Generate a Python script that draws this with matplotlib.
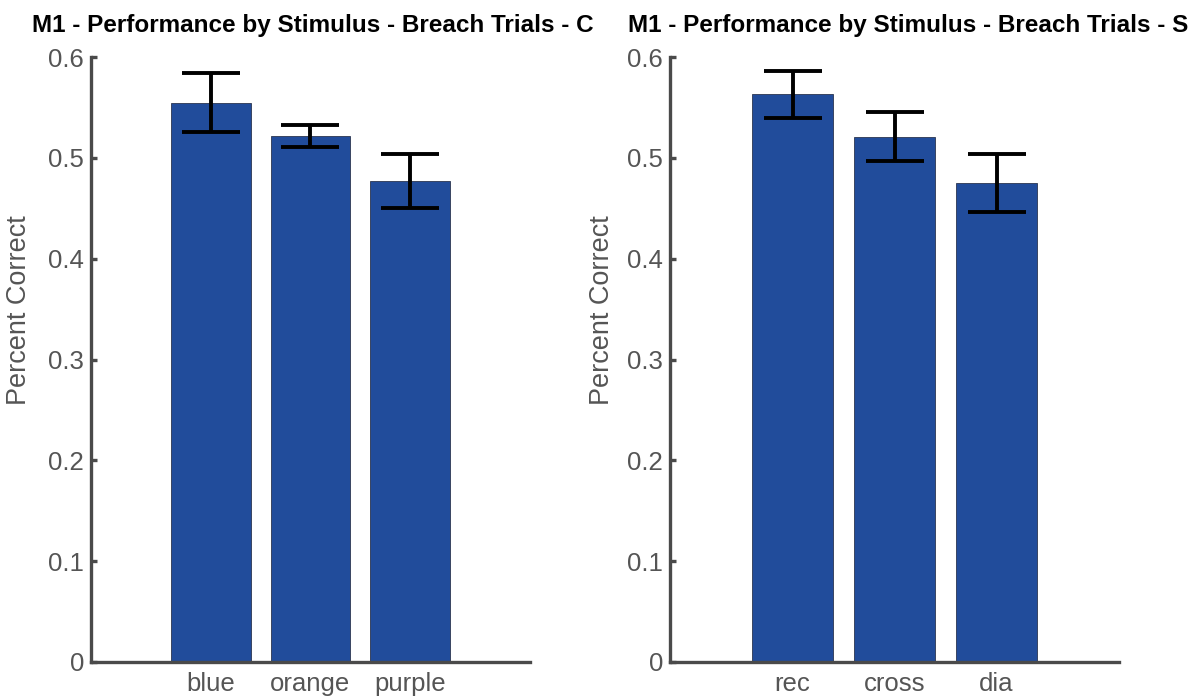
import numpy as np
import matplotlib
matplotlib.use("Agg")
import matplotlib.pyplot as plt

plt.rcParams['font.family'] = ['Liberation Sans', 'DejaVu Sans']

# left panel: colour stimuli
color_labels = ["blue", "orange", "purple"]
color_means = [0.555, 0.522, 0.477]
color_err = [0.029, 0.011, 0.027]

# right panel: shape stimuli
shape_labels = ["rec", "cross", "dia"]
shape_means = [0.563, 0.521, 0.475]
shape_err = [0.023, 0.0245, 0.0285]

titles = ["M1 - Performance by Stimulus - Breach Trials - C",
          "M1 - Performance by Stimulus - Breach Trials - S"]

barcol = "#214c9b"
axcol = "#4a4a4a"
txtcol = "#555555"

fig = plt.figure(figsize=(11.91, 6.96), dpi=100)
ax1 = fig.add_axes([0.0764, 0.0489, 0.3686, 0.869])
ax2 = fig.add_axes([0.5626, 0.0489, 0.377, 0.869])

panels = [(ax1, color_labels, color_means, color_err, titles[0], -0.134, 0.506),
          (ax2, shape_labels, shape_means, shape_err, titles[1], -0.122, 0.53)]

for ax, labels, means, err, title, ylx, tx in panels:
    x = np.arange(1, len(labels) + 1)
    ax.bar(x, means, width=0.8, color=barcol, edgecolor="#2b3550", linewidth=0.6, zorder=2)
    ax.errorbar(x, means, yerr=err, fmt="none", ecolor="black", elinewidth=2.8,
                capsize=21, capthick=2.8, zorder=3)
    ax.set_xlim(-0.2, 4.2)
    ax.set_ylim(0, 0.6)
    ax.set_xticks(x)
    ax.set_xticklabels(labels)
    ax.set_yticks([0, 0.1, 0.2, 0.3, 0.4, 0.5, 0.6])
    ax.set_yticklabels(["0", "0.1", "0.2", "0.3", "0.4", "0.5", "0.6"])
    ax.spines["top"].set_visible(False)
    ax.spines["right"].set_visible(False)
    for s in ["left", "bottom"]:
        ax.spines[s].set_color(axcol)
        ax.spines[s].set_linewidth(2.4)
    ax.tick_params(axis="y", direction="in", length=4, width=2.4, color=axcol,
                   labelcolor=txtcol, labelsize=18.5, pad=5)
    ax.tick_params(axis="x", length=0, labelcolor=txtcol, labelsize=18.5, pad=7)
    ax.set_ylabel("Percent Correct", color=txtcol, fontsize=19.5)
    ax.yaxis.set_label_coords(ylx, 0.582)
    ax.set_title(title, fontsize=17.5, fontweight="bold", x=tx, pad=18)

fig.savefig("out.png", dpi=100)
